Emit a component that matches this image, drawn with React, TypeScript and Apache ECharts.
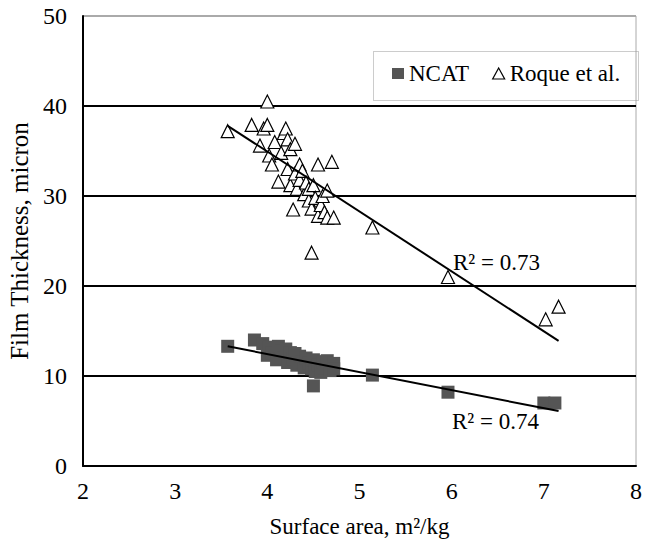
import React, { useEffect, useRef } from "react";
import * as echarts from "echarts";

const xTicks = [2, 3, 4, 5, 6, 7, 8];
const yTicks = [0, 10, 20, 30, 40, 50];

const ncat: [number, number][] = [
  [3.57, 13.3], [3.86, 14.0], [3.95, 13.6], [4.0, 12.3], [4.02, 13.2], [4.05, 12.6],
  [4.1, 11.8], [4.12, 13.3], [4.15, 12.8], [4.18, 12.0], [4.2, 13.0], [4.22, 11.5],
  [4.25, 12.6], [4.28, 11.9], [4.3, 12.5], [4.32, 11.2], [4.35, 12.2], [4.38, 11.6],
  [4.4, 10.9], [4.42, 12.0], [4.45, 11.4], [4.48, 10.8], [4.5, 8.9], [4.5, 11.8],
  [4.52, 10.5], [4.55, 11.2], [4.58, 10.4], [4.6, 11.6], [4.62, 10.9], [4.65, 11.7],
  [4.68, 10.6], [4.72, 11.4], [4.72, 10.8], [5.14, 10.1], [5.96, 8.2], [7.0, 7.0], [7.12, 7.0],
];

const roque: [number, number][] = [
  [3.57, 37.2], [3.83, 37.9], [3.92, 35.6], [3.96, 37.5], [4.0, 40.5], [4.0, 37.9],
  [4.02, 34.5], [4.05, 33.5], [4.08, 36.0], [4.12, 31.6], [4.15, 34.8], [4.18, 37.0],
  [4.2, 37.5], [4.22, 36.3], [4.22, 33.0], [4.25, 35.2], [4.25, 31.2], [4.28, 28.5],
  [4.3, 35.8], [4.3, 32.5], [4.32, 30.8], [4.35, 33.5], [4.35, 31.8], [4.38, 32.8],
  [4.4, 30.2], [4.42, 31.5], [4.45, 29.5], [4.45, 30.8], [4.48, 28.6], [4.48, 23.7],
  [4.5, 31.2], [4.52, 29.8], [4.55, 27.8], [4.55, 33.5], [4.58, 29.0], [4.6, 30.0],
  [4.62, 28.2], [4.65, 27.6], [4.65, 30.6], [4.7, 33.8], [4.72, 27.6], [5.14, 26.5],
  [5.96, 21.0], [7.02, 16.3], [7.16, 17.7],
];

const trendNcat: [number, number][] = [[3.57, 13.3], [7.16, 6.1]];
const trendRoque: [number, number][] = [[3.57, 37.8], [7.16, 13.9]];

const r2Labels = ["R² = 0.73", "R² = 0.74"];

const FONT = "Liberation Serif";

export default function App() {
  const ref = useRef<HTMLDivElement>(null);
  useEffect(() => {
    if (!ref.current) return;
    const chart = echarts.init(ref.current, null, { renderer: "svg" });
    chart.setOption({
      animation: false,
      backgroundColor: "#fff",
      textStyle: { fontFamily: FONT, color: "#000" },
      grid: {
        left: 83, right: 16, top: 16, bottom: 81,
        containLabel: false, outerBoundsMode: "none",
        show: true, borderColor: "#aaa", borderWidth: 1,
      },
      legend: {
        left: 392, top: 62, z: 20,
        padding: 0,
        itemGap: 23,
        itemWidth: 12, itemHeight: 11,
        textStyle: { fontFamily: FONT, fontSize: 23, color: "#000" },
        data: [
          { name: "NCAT", icon: "rect", itemStyle: { color: "#555", borderWidth: 0 } },
          { name: "Roque et al.", icon: "triangle", itemStyle: { color: "#fff", borderColor: "#000", borderWidth: 1.2 } },
        ],
      },
      xAxis: {
        type: "value", min: xTicks[0], max: xTicks[xTicks.length - 1], interval: 1,
        name: "Surface area, m²/kg", nameLocation: "middle", nameGap: 49,
        nameTextStyle: { fontFamily: FONT, fontSize: 23, color: "#000" },
        axisLine: { show: true, lineStyle: { color: "#000", width: 2 } },
        axisTick: { show: false },
        axisLabel: { fontFamily: FONT, fontSize: 24, color: "#000", margin: 13 },
        splitLine: { show: false },
      },
      yAxis: {
        type: "value", min: yTicks[0], max: yTicks[yTicks.length - 1], interval: 10,
        name: "Film Thickness, micron", nameLocation: "middle", nameGap: 34,
        nameTextStyle: { fontFamily: FONT, fontSize: 25, color: "#000" },
        axisLine: { show: true, lineStyle: { color: "#000", width: 2 } },
        axisTick: { show: false },
        axisLabel: { fontFamily: FONT, fontSize: 24, color: "#000", margin: 16 },
        splitLine: {
          show: true,
          lineStyle: { color: ["#000", "#000", "#000", "#000", "#000", "#aaa"], width: 2 },
        },
      },
      series: [
        {
          name: "NCAT", type: "scatter", data: ncat, symbol: "rect", symbolSize: 13,
          itemStyle: { color: "#555", opacity: 1 }, z: 3,
        },
        {
          name: "Roque et al.", type: "scatter", data: roque, symbol: "triangle", symbolSize: 13,
          itemStyle: { color: "#fff", borderColor: "#000", borderWidth: 1.2, opacity: 1 }, z: 4,
        },
        {
          name: "trendNcat", type: "line", data: trendNcat, symbol: "none",
          lineStyle: { color: "#000", width: 2 }, z: 5,
        },
        {
          name: "trendRoque", type: "line", data: trendRoque, symbol: "none",
          lineStyle: { color: "#000", width: 2 }, z: 5,
        },
      ],
      graphic: [
        {
          type: "rect", left: 371, top: 49, z: 1,
          shape: { width: 265, height: 49 },
          style: { fill: "none", stroke: "#999", lineWidth: 1, lineDash: [1, 1] },
        },
        { type: "text", left: 453, top: 251, style: { text: r2Labels[0], fontFamily: FONT, fontSize: 23, fill: "#000" } },
        { type: "text", left: 452, top: 410, style: { text: r2Labels[1], fontFamily: FONT, fontSize: 23, fill: "#000" } },
      ],
    });
    return () => chart.dispose();
  }, []);
  return <div ref={ref} style={{ width: 652, height: 547, marginTop: -8, marginLeft: -8 }} />;
}
